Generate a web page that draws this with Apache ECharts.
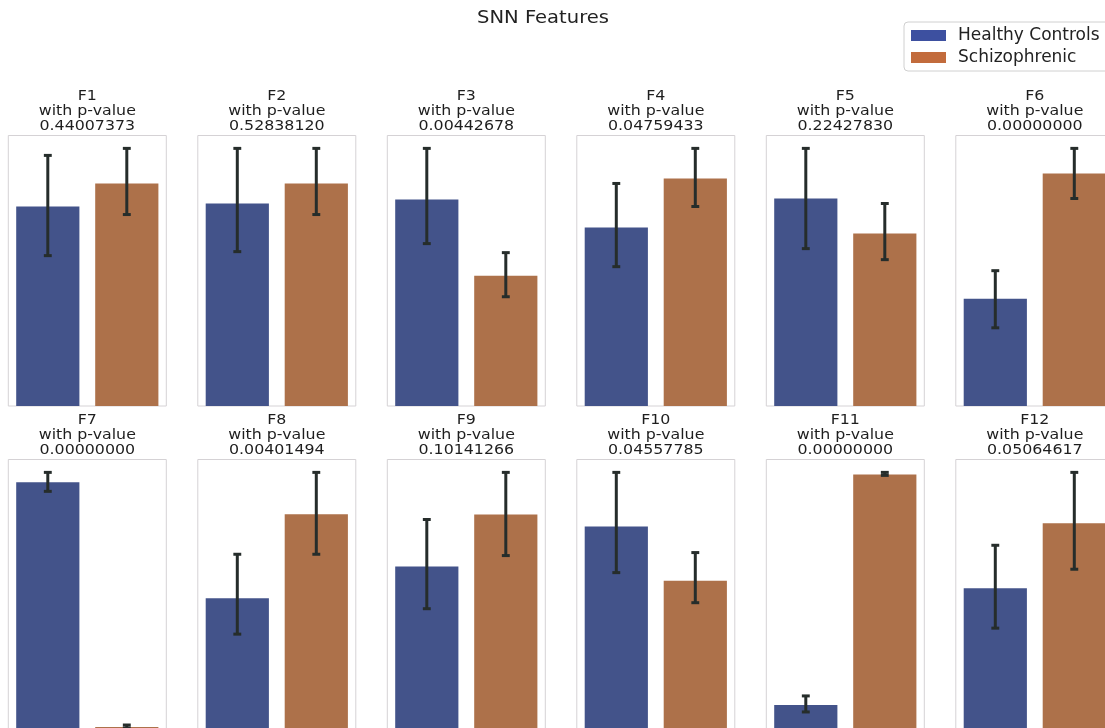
<!DOCTYPE html>
<html>
<head>
<meta charset="utf-8">
<title>SNN Features</title>
<script src="https://cdn.jsdelivr.net/npm/echarts@6/dist/echarts.min.js"></script>
<style>
  html, body { margin: 0; padding: 0; background: #fff; }
  #chart { width: 1105px; height: 728px; }
</style>
</head>
<body>
<div id="chart"></div>
<script>
// each panel has its own y scale (0 .. max CI * 1.05)
const features = ['F1', 'F2', 'F3', 'F4', 'F5', 'F6', 'F7', 'F8', 'F9', 'F10', 'F11', 'F12']
const pValues = ['0.44007373', '0.52838120', '0.00442678', '0.04759433', '0.22427830', '0.00000000',
  '0.00000000', '0.00401494', '0.10141266', '0.04557785', '0.00000000', '0.05064617']
const groups = ['Healthy Controls', 'Schizophrenic']

const healthyMean = [199, 202, 206, 178, 207, 107, 248, 132, 163, 203, 25, 142]
const healthyLo = [150, 154, 162, 139, 157, 78, 239, 96, 121, 157, 18, 102]
const healthyHi = [250, 257, 257, 222, 257, 135, 258, 176, 210, 257, 34, 185]

const schizMean = [222, 222, 130, 227, 172, 232, 3, 216, 215, 149, 255, 207]
const schizLo = [191, 191, 109, 199, 146, 207, 2, 176, 174, 127, 254, 161]
const schizHi = [257, 257, 153, 257, 202, 257, 5, 258, 257, 177, 257, 258]

const barColors = ['#43538a', '#ad714a']
const legendColors = ['#3d50a0', '#c26b3c']
const FONT = 'DejaVu Sans'

const chart = echarts.init(document.getElementById('chart'))

function renderErr(params, api) {
  const x = api.value(0)
  const lo = api.coord([x, api.value(1)])
  const hi = api.coord([x, api.value(2)])
  const half = api.size([1, 0])[0] * 0.05
  const style = { stroke: '#262d2b', lineWidth: 3, fill: null }
  return {
    type: 'group',
    children: [
      { type: 'line', shape: { x1: lo[0], y1: lo[1], x2: hi[0], y2: hi[1] }, style },
      { type: 'line', shape: { x1: lo[0] - half, y1: lo[1], x2: lo[0] + half, y2: lo[1] }, style },
      { type: 'line', shape: { x1: hi[0] - half, y1: hi[1], x2: hi[0] + half, y2: hi[1] }, style }
    ]
  }
}

const grid = []
const xAxis = []
const yAxis = []
const series = []
const graphic = [{
  type: 'text',
  x: 543,
  y: 19,
  scaleX: 1.15,
  silent: true,
  style: { text: 'SNN Features', font: '17px "DejaVu Sans"', fill: '#222', textAlign: 'center', textVerticalAlign: 'middle' }
}]

features.forEach((name, i) => {
  const col = i % 6
  const row = Math.floor(i / 6)
  const left = 8.3 + col * 189.5
  const top = row === 0 ? 135.5 : 459.5

  grid.push({
    left, top, width: 158, height: 270.5,
    show: true, borderColor: '#d5d2d5', borderWidth: 1, backgroundColor: 'transparent',
    containLabel: false, outerBoundsMode: 'none'
  })
  xAxis.push({ gridIndex: i, type: 'category', data: groups, show: false })
  yAxis.push({ gridIndex: i, type: 'value', min: 0, max: Math.max(healthyHi[i], schizHi[i]) * 1.05, show: false })

  series.push({
    name: groups[0], type: 'bar', xAxisIndex: i, yAxisIndex: i,
    data: [healthyMean[i], '-'], barWidth: '80%', barGap: '-100%',
    itemStyle: { color: barColors[0] }
  })
  series.push({
    name: groups[1], type: 'bar', xAxisIndex: i, yAxisIndex: i,
    data: ['-', schizMean[i]], barWidth: '80%', barGap: '-100%',
    itemStyle: { color: barColors[1] }
  })
  series.push({
    type: 'custom', xAxisIndex: i, yAxisIndex: i, z: 5,
    renderItem: renderErr,
    encode: { x: 0, y: [1, 2] },
    data: [[0, healthyLo[i], healthyHi[i]], [1, schizLo[i], schizHi[i]]]
  })

  graphic.push({
    type: 'text',
    x: left + 79,
    y: top - 24.5,
    scaleX: 1.13,
    silent: true,
    style: {
      text: name + '\nwith p-value\n' + pValues[i],
      font: '14px "DejaVu Sans"', fill: '#1e1e1e', lineHeight: 15,
      textAlign: 'center', textVerticalAlign: 'middle'
    }
  })
})

chart.setOption({
  animation: false,
  backgroundColor: '#fff',
  textStyle: { fontFamily: FONT },
  legend: {
    data: groups.map((g, k) => ({ name: g, itemStyle: { color: legendColors[k] } })),
    orient: 'vertical',
    left: 904,
    top: 22,
    icon: 'rect',
    itemWidth: 35,
    itemHeight: 11,
    itemGap: 5,
    padding: [5, 30, 5, 7],
    borderColor: '#d0d0d0',
    borderWidth: 1,
    borderRadius: 4,
    backgroundColor: '#fff',
    selectedMode: false,
    textStyle: { fontFamily: FONT, fontSize: 17, color: '#222', padding: [0, 0, 0, 7] }
  },
  grid,
  xAxis,
  yAxis,
  series,
  graphic
})
</script>
</body>
</html>
